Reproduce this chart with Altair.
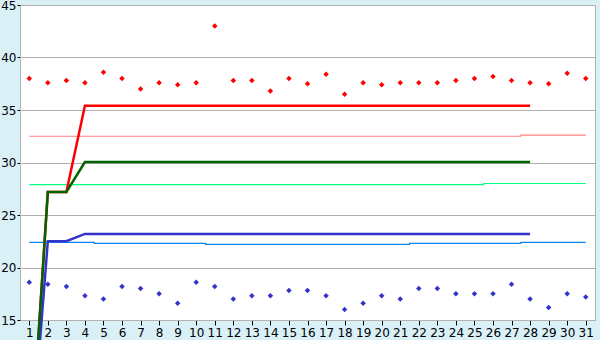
import altair as alt
import pandas as pd

days = list(range(1, 32))
red_pts = [38.0, 37.6, 37.8, 37.6, 38.6, 38.0, 37.0, 37.6, 37.4, 37.6,
           43.0, 37.8, 37.8, 36.8, 38.0, 37.5, 38.4, 36.5, 37.6, 37.4,
           37.6, 37.6, 37.6, 37.8, 38.0, 38.2, 37.8, 37.6, 37.5, 38.5, 38.0]
blue_pts = [18.6, 18.4, 18.2, 17.3, 17.0, 18.2, 18.0, 17.5, 16.6, 18.6,
            18.2, 17.0, 17.3, 17.3, 17.8, 17.8, 17.3, 16.0, 16.6, 17.3,
            17.0, 18.0, 18.0, 17.5, 17.5, 17.5, 18.4, 17.0, 16.2, 17.5, 17.2]

line_days = list(range(1, 29))
red_line = [0, 27.2, 27.2] + [35.4] * 25
green_line = [0, 27.2, 27.2] + [30.05] * 25
blue_line = [0, 22.5, 22.5] + [23.2] * 25

pink_thin = [32.5] * 27 + [32.6] * 4
lgreen_thin = [27.9] * 25 + [28.0] * 6
lblue_thin = [22.4] * 4 + [22.3] * 6 + [22.2] * 11 + [22.3] * 6 + [22.4] * 4

df_pts = pd.DataFrame({"day": days, "red": red_pts, "blue": blue_pts,
                       "pink": pink_thin, "lgreen": lgreen_thin, "lblue": lblue_thin})
df_lines = pd.DataFrame({"day": line_days, "red": red_line,
                         "green": green_line, "blue": blue_line})

GRAY = "#b0b0b0"
xscale = alt.Scale(domain=[0.5, 31.5], nice=False, zero=False)
yscale = alt.Scale(domain=[15, 45], nice=False, zero=False)
xaxis = alt.Axis(values=days, title=None, grid=False, tickSize=5, tickColor="#000000",
                 domainColor=GRAY, labelOverlap=False, labelFlush=False,
                 labelFontSize=12, labelPadding=2, labelColor="#000000")
yaxis = alt.Axis(values=[15, 20, 25, 30, 35, 40, 45], title=None, grid=True,
                 gridColor=GRAY, tickSize=3, tickColor="#000000", domainColor=GRAY,
                 labelFlush=False, labelFontSize=12, labelPadding=1, labelColor="#000000")

base = alt.Chart(df_pts)
x = alt.X("day:Q", scale=xscale, axis=xaxis)


def yenc(col):
    return alt.Y(f"{col}:Q", scale=yscale, axis=yaxis)


thin_pink = base.mark_line(color="#ff8080", strokeWidth=1.2, interpolate="step").encode(x=x, y=yenc("pink"))
thin_lgreen = base.mark_line(color="#00ff80", strokeWidth=1.2, interpolate="step").encode(x=x, y=yenc("lgreen"))
thin_lblue = base.mark_line(color="#0a84f0", strokeWidth=1.2, interpolate="step").encode(x=x, y=yenc("lblue"))

lbase = alt.Chart(df_lines)
red_l = lbase.mark_line(color="#ff0000", strokeWidth=2.5).encode(x=x, y=yenc("red"))
blue_l = lbase.mark_line(color="#3333cc", strokeWidth=2.5).encode(x=x, y=yenc("blue"))
green_l = lbase.mark_line(color="#006400", strokeWidth=2.5).encode(x=x, y=yenc("green"))

red_p = base.mark_point(shape="diamond", filled=True, size=30, color="#ff0000", opacity=1).encode(x=x, y=yenc("red"))
blue_p = base.mark_point(shape="diamond", filled=True, size=30, color="#3333cc", opacity=1).encode(x=x, y=yenc("blue"))

chart = alt.layer(thin_pink, thin_lgreen, thin_lblue, red_l, blue_l, green_l, red_p, blue_p).properties(
    width=575, height=315,
    background="#d9f0f7",
    padding={"left": 20, "top": 5, "right": 5, "bottom": 20},
    autosize=alt.AutoSizeParams(type="none"),
).configure_view(fill="#ffffff", stroke=GRAY).configure_axis(
    labelFont="DejaVu Sans"
)

chart.save("out.html", embed_options={"renderer": "svg", "actions": False})
